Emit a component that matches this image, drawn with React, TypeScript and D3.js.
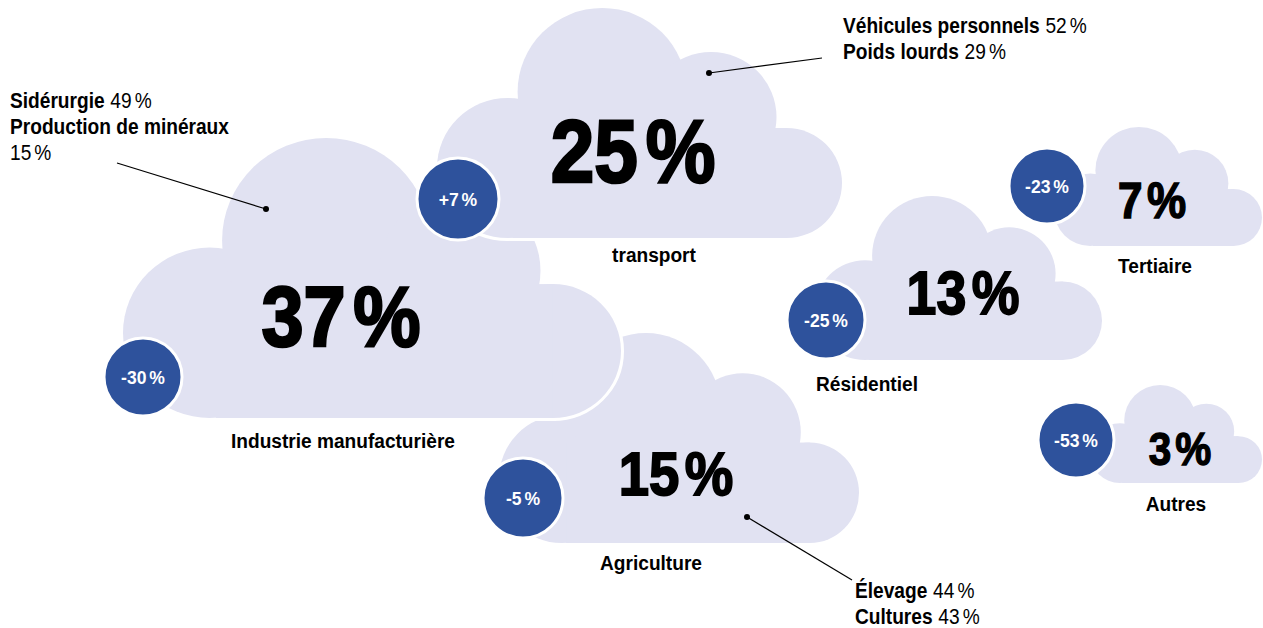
import React from "react";
import * as d3 from "d3";

// ---- data ----
const sectors = ["Industrie manufacturière", "transport", "Agriculture", "Résidentiel", "Tertiaire", "Autres"];
const shares = [37, 25, 15, 13, 7, 3];
const changes = [-30, 7, -5, -25, -23, -53];

const industrieLabels = ["Sidérurgie", "Production de minéraux"];
const industrieValues = [49, 15];
const transportLabels = ["Véhicules personnels", "Poids lourds"];
const transportValues = [52, 29];
const agricultureLabels = ["Élevage", "Cultures"];
const agricultureValues = [44, 43];

// ---- layout ----
const W = 1263;
const H = 628;
const CLOUD_FILL = "#E1E2F2";
const BADGE_FILL = "#2E529C";
const FONT = "'Liberation Sans', Arial, Helvetica, sans-serif";
const KX = 0.89; // horizontal condensing of text

// unit cloud (402 x 230)
const U_W = 402;
const U_H = 230;
const unitCircles = [
  { cx: 70, cy: 160, r: 70 },
  { cx: 164, cy: 84, r: 84 },
  { cx: 272, cy: 109, r: 65 },
  { cx: 347, cy: 175, r: 55 },
];
const unitRect = { x0: 75, x1: 347, y0: 120, y1: 230 };

const cloudBox = [
  { x: 123, y: 138, w: 498, h: 280 },
  { x: 437, y: 8, w: 405, h: 230 },
  { x: 499, y: 333, w: 360, h: 210 },
  { x: 815, y: 196, w: 287, h: 164 },
  { x: 1054, y: 127, w: 208, h: 119 },
  { x: 1090, y: 385, w: 172, h: 98 },
];
const drawOrder = [2, 0, 1, 3, 4, 5];
const badgePos = [
  { x: 143, y: 377, r: 39 },
  { x: 458, y: 199, r: 41 },
  { x: 523, y: 498, r: 40 },
  { x: 826, y: 320, r: 39 },
  { x: 1047, y: 186, r: 38 },
  { x: 1076, y: 440, r: 38 },
];
const bigPos = [
  { x: 341, y: 346, s: 86 },
  { x: 633, y: 182, s: 89 },
  { x: 676, y: 495, s: 62 },
  { x: 963, y: 314, s: 61 },
  { x: 1152, y: 218, s: 50 },
  { x: 1180, y: 465, s: 46 },
];
const labelPos = [
  { x: 343, y: 448 },
  { x: 654, y: 262 },
  { x: 651, y: 570 },
  { x: 867, y: 391 },
  { x: 1155, y: 273 },
  { x: 1176, y: 511 },
];

const fmtChange = (v: number) => (v > 0 ? "+" : "") + v;

function CText({
  x, y, k = KX, anchor = "start", children, ...rest
}: any) {
  return (
    <g transform={`translate(${x},${y}) scale(${k},1)`}>
      <text x={0} y={0} textAnchor={anchor} fontFamily={FONT} {...rest}>
        {children}
      </text>
    </g>
  );
}

function Cloud({ box }: { box: { x: number; y: number; w: number; h: number } }) {
  const sx = d3.scaleLinear().domain([0, U_W]).range([box.x, box.x + box.w]);
  const sy = d3.scaleLinear().domain([0, U_H]).range([box.y, box.y + box.h]);
  const kx = box.w / U_W;
  const ky = box.h / U_H;
  const shapes = (stroke: boolean) => (
    <g fill={CLOUD_FILL} stroke={stroke ? "#fff" : "none"} strokeWidth={stroke ? 6 : 0}>
      {unitCircles.map((c, i) => (
        <ellipse key={i} cx={sx(c.cx)} cy={sy(c.cy)} rx={c.r * kx} ry={c.r * ky} />
      ))}
      <rect x={sx(unitRect.x0)} y={sy(unitRect.y0)} width={sx(unitRect.x1) - sx(unitRect.x0)} height={sy(unitRect.y1) - sy(unitRect.y0)} />
    </g>
  );
  return (
    <g>
      {shapes(true)}
      {shapes(false)}
    </g>
  );
}

function Annotation({
  labels, values, x, y, wrapSecond, line,
}: {
  labels: string[]; values: number[]; x: number; y: number; wrapSecond?: boolean;
  line: [number, number, number, number];
}) {
  const lh = 26;
  const fs = 21.5;
  const rows: React.ReactNode[] = [];
  let row = 0;
  labels.forEach((l, i) => {
    if (wrapSecond && i === 1) {
      rows.push(
        <CText key={i + "a"} x={x} y={y + row * lh} fontSize={fs} fill="#000">
          <tspan fontWeight="bold">{l}</tspan>
        </CText>
      );
      row++;
      rows.push(
        <CText key={i + "b"} x={x} y={y + row * lh} fontSize={fs} fill="#000">
          <tspan fontWeight="normal">{String(values[i])}</tspan>
          <tspan fontWeight="normal" dx={fs * 0.16}>%</tspan>
        </CText>
      );
      row++;
    } else {
      rows.push(
        <CText key={i} x={x} y={y + row * lh} fontSize={fs} fill="#000">
          <tspan fontWeight="bold">{l}</tspan>
          <tspan fontWeight="normal" dx={fs * 0.3}>{String(values[i])}</tspan>
          <tspan fontWeight="normal" dx={fs * 0.16}>%</tspan>
        </CText>
      );
      row++;
    }
  });
  return (
    <g>
      {rows}
      <line x1={line[0]} y1={line[1]} x2={line[2]} y2={line[3]} stroke="#000" strokeWidth={1.2} />
      <circle cx={line[2]} cy={line[3]} r={3} fill="#000" />
    </g>
  );
}

export default function App() {
  return (
    <svg width={W} height={H} style={{ position: "absolute", left: 0, top: 0, background: "#fff" }}>
      <rect width={W} height={H} fill="#fff" />
      {drawOrder.map((i) => (
        <g key={i}>
          <Cloud box={cloudBox[i]} />
          <circle cx={badgePos[i].x} cy={badgePos[i].y} r={badgePos[i].r} fill={BADGE_FILL} stroke="#fff" strokeWidth={3} />
          <CText x={badgePos[i].x} y={badgePos[i].y + 6.5} k={0.95} anchor="middle" fontWeight="bold" fontSize={18.5} fill="#fff">
            <tspan>{fmtChange(changes[i])}</tspan>
            <tspan dx={18.5 * 0.16}>%</tspan>
          </CText>
          <CText
            x={bigPos[i].x}
            y={bigPos[i].y}
            k={0.88}
            anchor="middle"
            fontWeight="bold"
            fontSize={bigPos[i].s}
            fill="#000"
            stroke="#000"
            strokeWidth={bigPos[i].s * 0.03}
            strokeLinejoin="miter"
          >
            <tspan>{String(shares[i])}</tspan>
            <tspan dx={bigPos[i].s * 0.1}>%</tspan>
          </CText>
          <CText x={labelPos[i].x} y={labelPos[i].y} k={0.91} anchor="middle" fontWeight="bold" fontSize={21} fill="#000">
            {sectors[i]}
          </CText>
        </g>
      ))}
      <Annotation labels={industrieLabels} values={industrieValues} x={10} y={108} wrapSecond line={[117, 163, 266, 209]} />
      <Annotation labels={transportLabels} values={transportValues} x={843} y={33} line={[822, 58, 709, 73]} />
      <Annotation labels={agricultureLabels} values={agricultureValues} x={855} y={598} line={[852, 580, 747, 517]} />
    </svg>
  );
}
